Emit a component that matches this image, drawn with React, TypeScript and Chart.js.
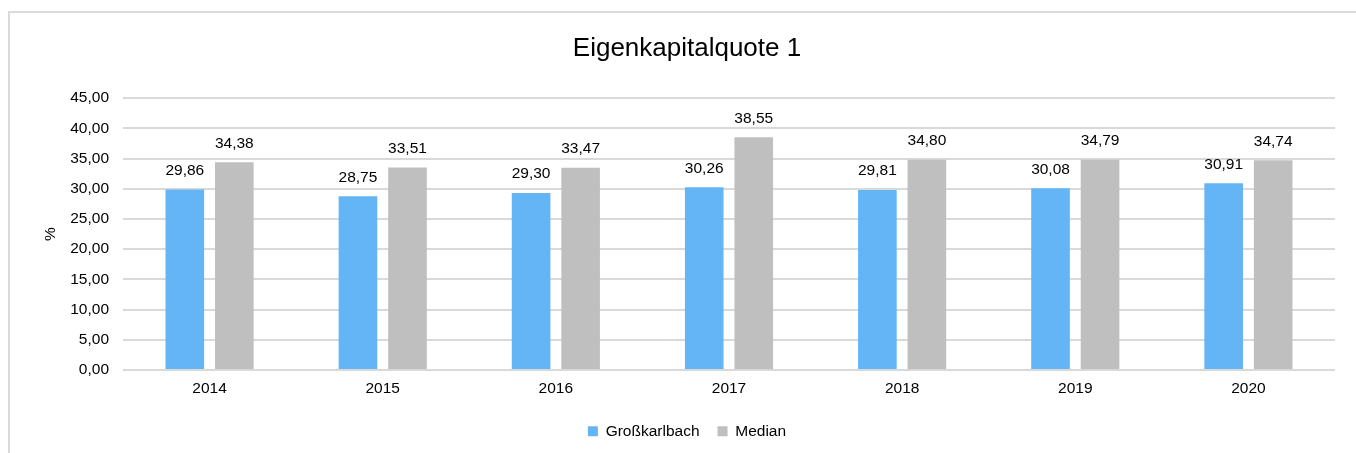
import React, { useEffect, useRef } from "react";
import { Chart, registerables } from "chart.js";

Chart.register(...registerables);

const chartTitle = "Eigenkapitalquote 1";
const categories = ["2014", "2015", "2016", "2017", "2018", "2019", "2020"];
const seriesNames = ["Großkarlbach", "Median"];
const grosskarlbach = [29.86, 28.75, 29.3, 30.26, 29.81, 30.08, 30.91];
const median = [34.38, 33.51, 33.47, 38.55, 34.8, 34.79, 34.74];
const yAxisTitle = "%";

const fmt = (v: number) => v.toFixed(2).replace(".", ",");
const FONT = "'Liberation Sans', Arial, sans-serif";

const dataLabelPlugin = {
  id: "dataLabels",
  afterDatasetsDraw(chart: any) {
    const ctx = chart.ctx;
    ctx.save();
    ctx.font = `15.5px ${FONT}`;
    ctx.fillStyle = "#000";
    ctx.textAlign = "center";
    ctx.textBaseline = "alphabetic";
    chart.data.datasets.forEach((ds: any, i: number) => {
      const meta = chart.getDatasetMeta(i);
      meta.data.forEach((el: any, j: number) => {
        ctx.fillText(fmt(ds.data[j]), el.x, el.y - 14.5);
      });
    });
    ctx.restore();
  },
};

export default function App() {
  const ref = useRef<HTMLCanvasElement | null>(null);
  useEffect(() => {
    if (!ref.current) return;
    const chart = new Chart(ref.current, {
      type: "bar",
      data: {
        labels: categories,
        datasets: [
          {
            label: seriesNames[0],
            data: grosskarlbach,
            backgroundColor: "#64B5F6",
            categoryPercentage: 0.572,
            barPercentage: 0.78,
          },
          {
            label: seriesNames[1],
            data: median,
            backgroundColor: "#BFBFBF",
            categoryPercentage: 0.572,
            barPercentage: 0.78,
          },
        ],
      },
      options: {
        animation: false,
        responsive: true,
        maintainAspectRatio: false,
        layout: { padding: { left: 39, right: 21, top: 0, bottom: 4 } },
        plugins: {
          title: {
            display: true,
            text: chartTitle,
            color: "#000",
            font: { family: FONT, size: 26, weight: "normal" },
            padding: { top: 33, bottom: 34 },
          },
          legend: {
            position: "bottom",
            labels: {
              color: "#000",
              font: { family: FONT, size: 15.5 },
              boxWidth: 10,
              boxHeight: 10,
              padding: 18,
            },
          },
          tooltip: { enabled: false },
        },
        scales: {
          x: {
            grid: { display: false, drawTicks: false },
            border: { display: false },
            ticks: { color: "#000", font: { family: FONT, size: 15.5 }, padding: 10 },
            afterFit: (scale: any) => {
              scale.height = 35.6;
            },
          },
          y: {
            min: 0,
            max: 45,
            grid: { color: "#D9D9D9", lineWidth: 2, drawTicks: false },
            border: { display: false },
            ticks: {
              stepSize: 5,
              color: "#000",
              font: { family: FONT, size: 15.5 },
              padding: 14,
              callback: (v: any) => fmt(Number(v)),
            },
            title: {
              display: true,
              text: yAxisTitle,
              color: "#000",
              font: { family: FONT, size: 15.5 },
              padding: { top: 2, bottom: 0 },
            },
            afterFit: (scale: any) => {
              scale.width = 84;
            },
          },
        },
      },
      plugins: [dataLabelPlugin],
    });
    return () => chart.destroy();
  }, []);
  return (
    <div style={{ position: "fixed", left: 0, top: 0, width: 1356, height: 453, background: "#fff" }}>
      <div
        style={{
          position: "absolute",
          left: 8,
          top: 11,
          width: 1400,
          height: 500,
          borderLeft: "2px solid #DADADA",
          borderTop: "2px solid #DADADA",
          boxSizing: "border-box",
        }}
      />
      <canvas ref={ref} style={{ position: "absolute", left: 0, top: 0, width: 1356, height: 453 }} />
    </div>
  );
}
